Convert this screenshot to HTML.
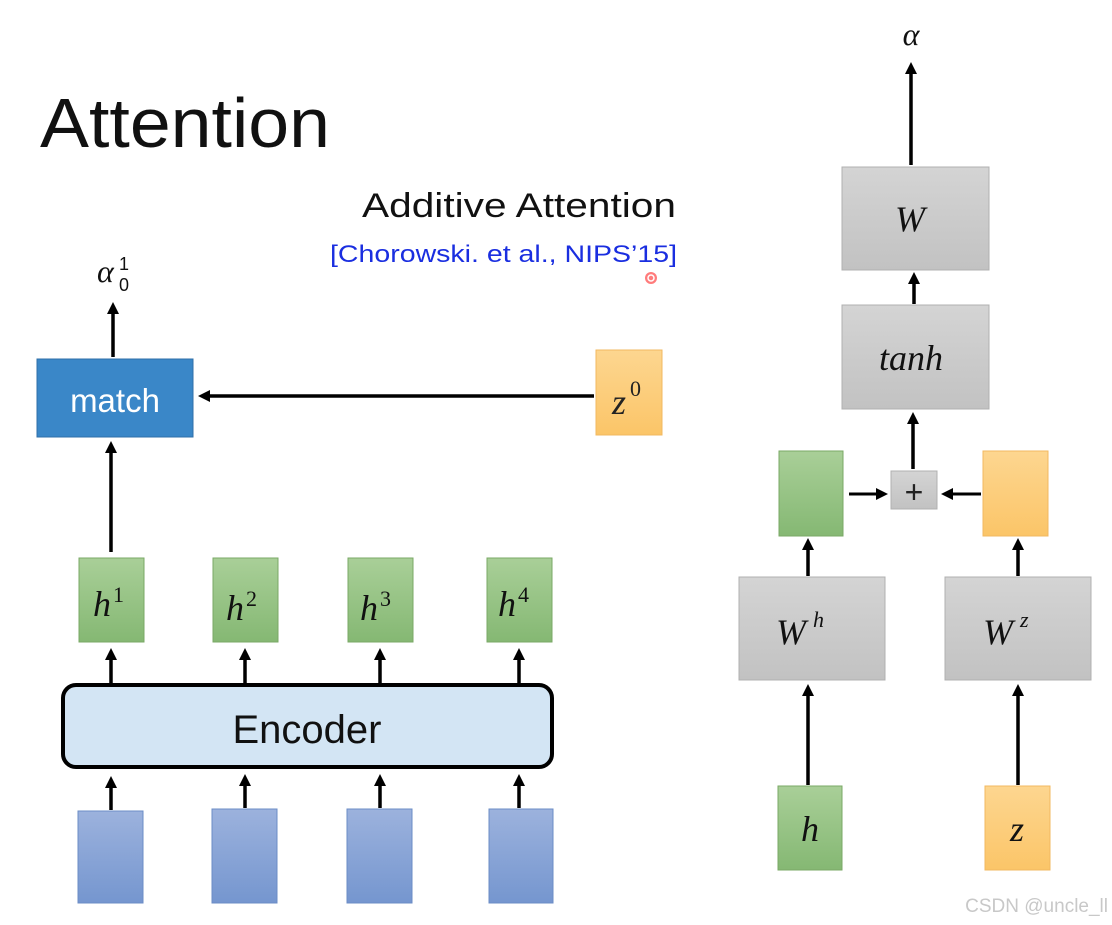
<!DOCTYPE html>
<html><head><meta charset="utf-8"><style>
html,body{margin:0;padding:0;background:#fff;width:1112px;height:925px;overflow:hidden}
svg{display:block}
.m{font-family:"Liberation Serif",serif;font-style:italic}
</style></head><body>
<svg width="1112" height="925" viewBox="0 0 1112 925" xmlns="http://www.w3.org/2000/svg">
<defs>
<marker id="ah" markerWidth="12" markerHeight="12" refX="8" refY="6" orient="auto" markerUnits="userSpaceOnUse">
<path d="M0,0 L12,6 L0,12 z" fill="#000"/></marker>
<linearGradient id="gg" x1="0" y1="0" x2="0" y2="1"><stop offset="0" stop-color="#a9cf98"/><stop offset="1" stop-color="#85b873"/></linearGradient>
<linearGradient id="go" x1="0" y1="0" x2="0" y2="1"><stop offset="0" stop-color="#fdd690"/><stop offset="1" stop-color="#fbc568"/></linearGradient>
<linearGradient id="gb" x1="0" y1="0" x2="0" y2="1"><stop offset="0" stop-color="#9cb2dd"/><stop offset="1" stop-color="#7596cf"/></linearGradient>
<linearGradient id="gy" x1="0" y1="0" x2="0" y2="1"><stop offset="0" stop-color="#d4d4d4"/><stop offset="1" stop-color="#c2c2c2"/></linearGradient>
</defs>
<g fill="none" stroke="#000" stroke-width="3.5">
<line x1="113" y1="357" x2="113" y2="306" marker-end="url(#ah)"/>
<line x1="594" y1="396" x2="202" y2="396" marker-end="url(#ah)"/>
<line x1="111" y1="552" x2="111" y2="445" marker-end="url(#ah)"/>
<line x1="111" y1="684" x2="111" y2="652" marker-end="url(#ah)"/>
<line x1="245" y1="684" x2="245" y2="652" marker-end="url(#ah)"/>
<line x1="380" y1="684" x2="380" y2="652" marker-end="url(#ah)"/>
<line x1="519" y1="684" x2="519" y2="652" marker-end="url(#ah)"/>
<line x1="111" y1="810" x2="111" y2="780" marker-end="url(#ah)"/>
<line x1="245" y1="808" x2="245" y2="778" marker-end="url(#ah)"/>
<line x1="380" y1="808" x2="380" y2="778" marker-end="url(#ah)"/>
<line x1="519" y1="808" x2="519" y2="778" marker-end="url(#ah)"/>
<line x1="911" y1="165" x2="911" y2="66" marker-end="url(#ah)"/>
<line x1="914" y1="304" x2="914" y2="276" marker-end="url(#ah)"/>
<line x1="913" y1="469" x2="913" y2="416" marker-end="url(#ah)"/>
<line x1="849" y1="494" x2="884" y2="494" stroke-width="3" marker-end="url(#ah)"/>
<line x1="981" y1="494" x2="945" y2="494" stroke-width="3" marker-end="url(#ah)"/>
<line x1="808" y1="576" x2="808" y2="542" marker-end="url(#ah)"/>
<line x1="1018" y1="576" x2="1018" y2="542" marker-end="url(#ah)"/>
<line x1="808" y1="785" x2="808" y2="688" marker-end="url(#ah)"/>
<line x1="1018" y1="785" x2="1018" y2="688" marker-end="url(#ah)"/>
</g>
<text x="40" y="147" font-family="Liberation Sans,sans-serif" font-size="70" fill="#111" textLength="290" lengthAdjust="spacingAndGlyphs">Attention</text>
<text x="362" y="217" font-family="Liberation Sans,sans-serif" font-size="34" fill="#111" textLength="314" lengthAdjust="spacingAndGlyphs">Additive Attention</text>
<text x="330" y="262" font-family="Liberation Sans,sans-serif" font-size="24" fill="#1a2ee0" textLength="347" lengthAdjust="spacingAndGlyphs">[Chorowski. et al., NIPS’15]</text>
<circle cx="651" cy="278" r="6" fill="#f44" opacity="0.7"/><circle cx="651" cy="278" r="3" fill="none" stroke="#fff" stroke-width="1.5"/>
<text x="97" y="282" class="m" font-size="32" fill="#111">α</text>
<text x="119" y="270" font-family="Liberation Sans,sans-serif" font-size="18" fill="#111">1</text>
<text x="119" y="291" font-family="Liberation Sans,sans-serif" font-size="18" fill="#111">0</text>
<rect x="37" y="359" width="156" height="78" fill="#3a87c8" stroke="#2f6fa8" stroke-width="1"/>
<text x="115" y="412" text-anchor="middle" font-family="Liberation Sans,sans-serif" font-size="33" fill="#fff">match</text>
<rect x="596" y="350" width="66" height="85" fill="url(#go)" stroke="#f2b860"/>
<text x="612" y="414" class="m" font-size="36" fill="#222">z</text>
<text x="630" y="396" font-family="Liberation Serif,serif" font-size="22" fill="#222">0</text>
<g stroke="#7aa866" stroke-width="1">
<rect x="79" y="558" width="65" height="84" fill="url(#gg)"/>
<rect x="213" y="558" width="65" height="84" fill="url(#gg)"/>
<rect x="348" y="558" width="65" height="84" fill="url(#gg)"/>
<rect x="487" y="558" width="65" height="84" fill="url(#gg)"/>
</g>
<g class="m" font-size="36" fill="#111">
<text x="93" y="616">h</text><text x="226" y="620">h</text><text x="360" y="620">h</text><text x="498" y="616">h</text>
</g>
<g font-family="Liberation Serif,serif" font-size="22" fill="#111">
<text x="113" y="602">1</text><text x="246" y="606">2</text><text x="380" y="606">3</text><text x="518" y="602">4</text>
</g>
<rect x="63" y="685" width="489" height="82" rx="13" fill="#d3e5f4" stroke="#000" stroke-width="4"/>
<text x="307" y="743" text-anchor="middle" font-family="Liberation Sans,sans-serif" font-size="40" fill="#111">Encoder</text>
<g fill="url(#gb)" stroke="#6b8cc6" stroke-width="1">
<rect x="78" y="811" width="65" height="92"/>
<rect x="212" y="809" width="65" height="94"/>
<rect x="347" y="809" width="65" height="94"/>
<rect x="489" y="809" width="64" height="94"/>
</g>
<text x="911" y="45" text-anchor="middle" class="m" font-size="32" fill="#111">α</text>
<g fill="url(#gy)" stroke="#b0b0b0" stroke-width="1">
<rect x="842" y="167" width="147" height="103"/>
<rect x="842" y="305" width="147" height="104"/>
<rect x="891" y="471" width="46" height="38"/>
<rect x="739" y="577" width="146" height="103"/>
<rect x="945" y="577" width="146" height="103"/>
</g>
<text x="910" y="231" text-anchor="middle" class="m" font-size="36" fill="#111">W</text>
<text x="911" y="370" text-anchor="middle" class="m" font-size="36" fill="#111">tanh</text>
<text x="914" y="503" text-anchor="middle" font-family="Liberation Sans,sans-serif" font-size="32" fill="#222">+</text>
<text x="776" y="644" class="m" font-size="36" fill="#111">W</text>
<text x="813" y="627" class="m" font-size="22" fill="#111">h</text>
<text x="983" y="644" class="m" font-size="36" fill="#111">W</text>
<text x="1020" y="627" class="m" font-size="22" fill="#111">z</text>
<rect x="779" y="451" width="64" height="85" fill="url(#gg)" stroke="#7aa866"/>
<rect x="983" y="451" width="65" height="85" fill="url(#go)" stroke="#f2b860"/>
<rect x="778" y="786" width="64" height="84" fill="url(#gg)" stroke="#7aa866"/>
<rect x="985" y="786" width="65" height="84" fill="url(#go)" stroke="#f2b860"/>
<text x="810" y="841" text-anchor="middle" class="m" font-size="36" fill="#111">h</text>
<text x="1017" y="841" text-anchor="middle" class="m" font-size="36" fill="#111">z</text>
<text x="1108" y="912" text-anchor="end" font-family="Liberation Sans,sans-serif" font-size="19" fill="#c8c8c8">CSDN @uncle_ll</text>
</svg>
</body></html>
